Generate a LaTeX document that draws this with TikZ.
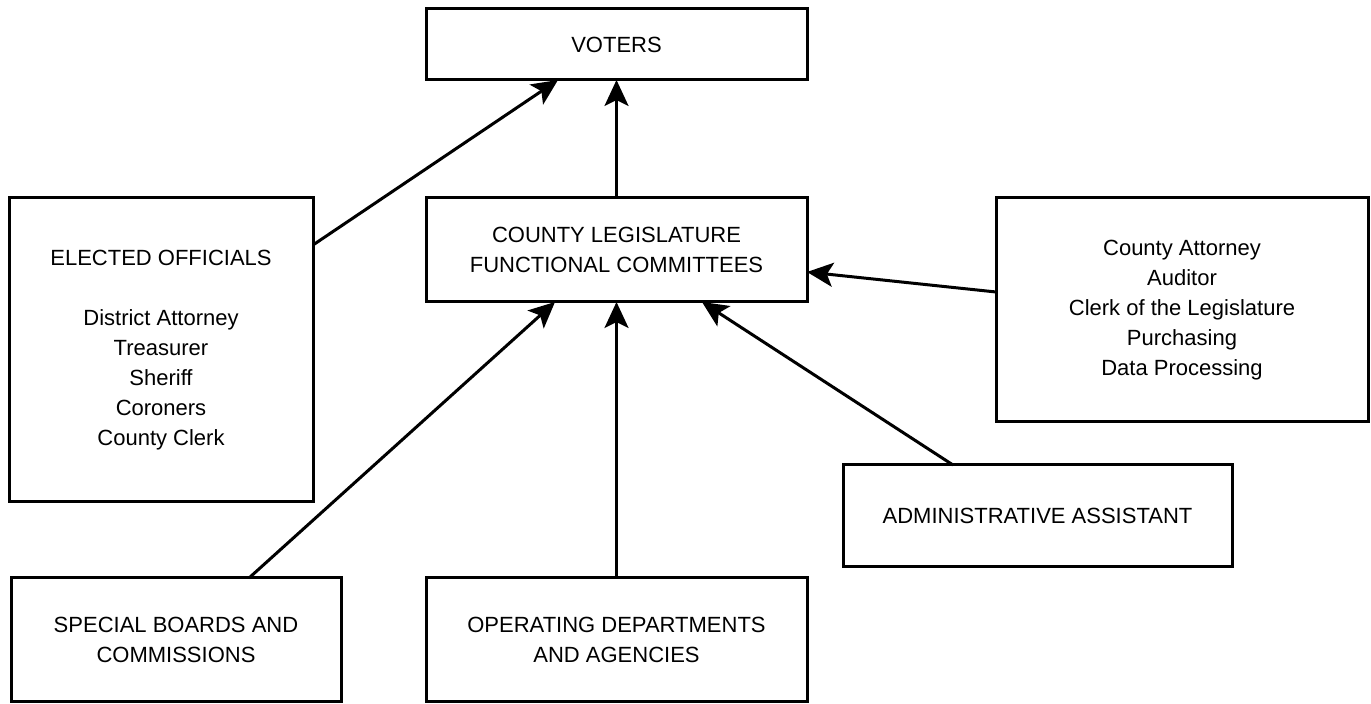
\documentclass[tikz,border=0pt]{standalone}
\usepackage{fontspec}
\setmainfont{Liberation Sans}
\usetikzlibrary{arrows.meta,calc}
\begin{document}
\begin{tikzpicture}[x=0.5pt,y=-0.5pt,
  box/.style={draw,line width=1.5pt,inner sep=0pt,outer sep=0pt,align=center,
    font=\fontsize{11}{15}\selectfont},
  arr/.style={line width=1.5pt,-{Stealth[length=13pt,width=12pt,inset=3pt]}}]
\useasboundingbox (0,0) rectangle (1371,704);
\node[box,minimum width=190.5pt,minimum height=35.5pt] (voters) at (616.5,44.5) {VOTERS};
\node[box,minimum width=190.5pt,minimum height=52pt] (cl) at (616.5,250) {COUNTY LEGISLATURE\\FUNCTIONAL COMMITTEES};
\node[box,minimum width=152pt,minimum height=152pt] (elected) at (161,350) {ELECTED OFFICIALS\\[15pt]District Attorney\\Treasurer\\Sheriff\\Coroners\\County Clerk};
\node[box,minimum width=186pt,minimum height=112pt] (staff) at (1182,310) {County Attorney\\Auditor\\Clerk of the Legislature\\Purchasing\\Data Processing};
\node[box,minimum width=194.5pt,minimum height=51pt] (admin) at (1037.5,516) {ADMINISTRATIVE ASSISTANT};
\node[box,minimum width=165pt,minimum height=62pt] (special) at (176,640) {SPECIAL BOARDS AND\\COMMISSIONS};
\node[box,minimum width=190.5pt,minimum height=62pt] (oper) at (616.5,640) {OPERATING DEPARTMENTS\\AND AGENCIES};
\draw[arr] ([yshift=-23.5pt]elected.north east) -- ([xshift=-29.25pt]voters.south);
\draw[arr] (cl.north) -- (voters.south);
\draw[arr] ([yshift=9pt]staff.west) -- ([yshift=-11pt]cl.east);
\draw[arr] ([xshift=36.5pt]special.north) -- ([xshift=-30.75pt]cl.south);
\draw[arr] (oper.north) -- (cl.south);
\draw[arr] ([xshift=-42.25pt]admin.north) -- ([xshift=42.75pt]cl.south);
\end{tikzpicture}
\end{document}
